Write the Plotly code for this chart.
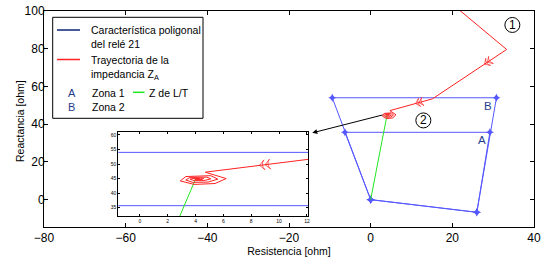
import plotly.graph_objects as go

# ---------------- data ----------------
zone1_r = [0, 26.0, 29.2, -6.3, 0]
zone1_x = [0, -6.7, 35.7, 35.7, 0]
zone2_r = [0, 26.0, 30.8, -9.4, 0]
zone2_x = [0, -6.7, 54.0, 54.0, 0]
lt_r = [0, 4.0]
lt_x = [0, 44.8]
traj_r = [20.9, 33.3, 15.1, 4.7, 6.2, 5.4, 3.9, 2.9, 3.3, 5.1, 5.6, 4.9, 3.8, 3.3, 3.6,
          4.8, 5.1, 4.6, 3.9, 3.6, 4.0, 4.6, 4.5, 4.0, 3.9, 4.2, 4.3, 4.1, 4.05]
traj_x = [102, 79.6, 53.4, 47.2, 45.0, 43.3, 43.0, 44.2, 45.7, 46.0, 44.8, 43.8, 43.7, 44.5, 45.4,
          45.5, 44.9, 44.3, 44.3, 44.8, 45.2, 45.1, 44.7, 44.7, 45.0, 45.1, 44.9, 44.9, 45.0]
arrow1_r = [33.3, 28.6, 27.9]
arrow1_x = [79.6, 72.8, 71.8]
arrow2_r = [15.1, 11.8, 11.0]
arrow2_x = [53.4, 51.43, 50.96]
arrow3_r = [15.1, 9.0, 8.6]
arrow3_x = [53.4, 49.76, 49.53]
x_ticks = [-80, -60, -40, -20, 0, 20, 40]
y_ticks = [0, 20, 40, 60, 80, 100]
ix_ticks = [0, 2, 4, 6, 8, 10, 12]
iy_ticks = [35, 40, 45, 50, 55, 60]

BLUE = "#5558ff"
RED = "#ff2222"
GREEN = "#22e622"
NAVY = "#0b2374"
LBL = "#1f3c8c"
FONT = "Liberation Sans, Arial, sans-serif"

# page body margin is removed below, so the figure fills the window
W, H = 543, 260
# plot area in window pixels
PL, PR, PT, PB = 44, 534, 11, 227
ML, MR, MT, MB = PL, W - PR, PT, H - PB
PW, PH = PR - PL, PB - PT


def px(x):
    return (x - PL) / PW


def py(y):
    return (PB - y) / PH


fig = go.Figure()

for xa, ya in (("x", "y"), ("x2", "y2")):
    fig.add_trace(go.Scatter(x=zone2_r, y=zone2_x, mode="lines+markers", xaxis=xa, yaxis=ya,
                             line=dict(color=BLUE, width=1),
                             marker=dict(symbol="star-diamond", size=6, color=BLUE),
                             showlegend=False, hoverinfo="skip"))
    fig.add_trace(go.Scatter(x=zone1_r, y=zone1_x, mode="lines+markers", xaxis=xa, yaxis=ya,
                             line=dict(color=BLUE, width=1),
                             marker=dict(symbol="star-diamond", size=6, color=BLUE),
                             showlegend=False, hoverinfo="skip"))
    fig.add_trace(go.Scatter(x=lt_r, y=lt_x, mode="lines", xaxis=xa, yaxis=ya,
                             line=dict(color=GREEN, width=1), showlegend=False, hoverinfo="skip"))
    fig.add_trace(go.Scatter(x=traj_r, y=traj_x, mode="lines", xaxis=xa, yaxis=ya,
                             line=dict(color=RED, width=1), showlegend=False, hoverinfo="skip"))

for ar, ax_, xa, ya, sz in ((arrow1_r, arrow1_x, "x", "y", 6), (arrow2_r, arrow2_x, "x", "y", 6),
                            (arrow3_r, arrow3_x, "x2", "y2", 7)):
    fig.add_trace(go.Scatter(x=ar, y=ax_, mode="markers", xaxis=xa, yaxis=ya,
                             marker=dict(symbol="arrow-wide-open", angleref="previous",
                                         size=[0, sz, sz], color=RED, line=dict(color=RED, width=1)),
                             showlegend=False, hoverinfo="skip"))

axis_common = dict(showline=True, linecolor="black", linewidth=1, mirror="allticks",
                   ticks="inside", tickcolor="black", showgrid=False, zeroline=False,
                   automargin=False, ticklabeloverflow="allow")

fig.update_layout(
    template="none",
    width=W, height=H,
    margin=dict(l=ML, r=MR, t=MT, b=MB, pad=0),
    paper_bgcolor="white", plot_bgcolor="white",
    font=dict(family=FONT, size=12, color="black"),
    showlegend=False,
    xaxis=dict(range=[-80, 40], tickvals=x_ticks, ticklen=4,
               title=dict(text="Resistencia [ohm]", font=dict(size=10.5), standoff=0),
               tickfont=dict(size=12), **axis_common),
    yaxis=dict(range=[-14.5, 100], tickvals=y_ticks, ticklen=4, ticklabelstandoff=-4,
               tickfont=dict(size=12), **axis_common),
    xaxis2=dict(domain=[px(118.3), px(308.3)], anchor="y2", range=[-1.55, 12.1],
                tickvals=ix_ticks, ticklen=2, tickfont=dict(size=5), **axis_common),
    yaxis2=dict(domain=[py(216), py(131.7)], anchor="x2", range=[32.15, 61.1],
                tickvals=iy_ticks, ticklen=2, tickfont=dict(size=5), **axis_common),
)

shapes = []
annotations = []

# legend box
shapes.append(dict(type="rect", xref="paper", yref="paper", x0=px(52.7), x1=px(203),
                   y0=py(118.3), y1=py(17.3), line=dict(color="black", width=1),
                   fillcolor="white", layer="above"))
shapes.append(dict(type="line", xref="paper", yref="paper", x0=px(57), x1=px(80),
                   y0=py(30), y1=py(30), line=dict(color=NAVY, width=1.5)))
shapes.append(dict(type="line", xref="paper", yref="paper", x0=px(57), x1=px(80),
                   y0=py(59.5), y1=py(59.5), line=dict(color=RED, width=1.5)))
shapes.append(dict(type="line", xref="paper", yref="paper", x0=px(133), x1=px(144.5),
                   y0=py(92.3), y1=py(92.3), line=dict(color=GREEN, width=1.5)))

# circles around the numbers
for cx, cy in ((34.7, 92.6), (12.9, 42.0)):
    shapes.append(dict(type="circle", xref="x", yref="y", xsizemode="pixel", ysizemode="pixel",
                       xanchor=cx, yanchor=cy, x0=-7.5, x1=7.5, y0=-7.5, y1=7.5,
                       line=dict(color="black", width=1)))


def txt(x, y, s, color="black", size=10.5, xanchor="left", family=FONT, angle=0):
    annotations.append(dict(xref="paper", yref="paper", x=px(x), y=py(y), text=s,
                            showarrow=False, xanchor=xanchor, yanchor="middle", align="left",
                            textangle=angle,
                            font=dict(size=size, color=color, family=family)))


txt(88.5, 36.7, "Característica poligonal<br>del relé 21")
txt(88.5, 68, "Trayectoria de la<br>impedancia Z<sub>A</sub>")
txt(71.7, 92.7, "A", color=LBL, size=11, xanchor="center")
txt(89.5, 92.7, "Zona 1")
txt(146.5, 92.7, "Z de L/T")
txt(71.7, 107.3, "B", color=LBL, size=11, xanchor="center")
txt(89.5, 107.3, "Zona 2")
# y-axis title
txt(20, 121, "Reactancia [ohm]", xanchor="center", angle=-90)

# labels in the plot
annotations.append(dict(x=27.3, y=31.5, xref="x", yref="y", text="A", showarrow=False,
                        font=dict(size=11.5, color=LBL)))
annotations.append(dict(x=28.7, y=49.8, xref="x", yref="y", text="B", showarrow=False,
                        font=dict(size=11.5, color=LBL)))
annotations.append(dict(x=34.7, y=92.6, xref="x", yref="y", text="1", showarrow=False,
                        font=dict(size=12, color="black")))
annotations.append(dict(x=12.9, y=42.0, xref="x", yref="y", text="2", showarrow=False,
                        font=dict(size=12, color="black")))
# pointer arrow to the inset
annotations.append(dict(x=-14.3, y=35.4, xref="x", yref="y", ax=3.3, ay=45.1,
                        axref="x", ayref="y", text="", showarrow=True, arrowhead=2,
                        arrowsize=1, arrowwidth=1, arrowcolor="black"))

fig.update_layout(shapes=shapes, annotations=annotations)
fig.write_html("out.html", config={"displayModeBar": False},
               post_script="document.body.style.margin='0px';")
